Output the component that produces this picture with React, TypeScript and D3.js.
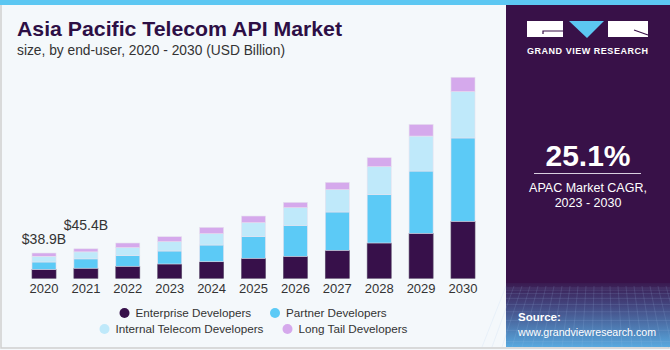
import { useEffect, useRef } from "react";
import * as d3 from "d3";

const years = ["2020", "2021", "2022", "2023", "2024", "2025", "2026", "2027", "2028", "2029", "2030"];
const seriesNames = ["Enterprise Developers", "Partner Developers", "Internal Telecom Developers", "Long Tail Developers"];
const enterprise = [13.6, 15.5, 18.5, 22.0, 25.5, 30.8, 33.8, 43.1, 54.3, 69.2, 87.7];
const partner = [11.5, 14.4, 16.3, 20.0, 25.7, 33.2, 47.7, 58.9, 74.3, 95.8, 128.2];
const internal = [8.7, 10.8, 12.3, 14.3, 17.4, 21.5, 27.1, 34.3, 43.1, 53.8, 71.2];
const longTail = [5.1, 4.7, 7.2, 7.7, 9.8, 10.3, 8.3, 11.4, 13.8, 18.0, 22.2];
const valueLabels = [
  { year: "2020", text: "$38.9B", lift: 9 },
  { year: "2021", text: "$45.4B", lift: 19 },
];
const colors = ["#37104a", "#5ccaf6", "#bfe9fa", "#d5a9ec"];

const W = 670;
const H = 350;
const FONT = "'Liberation Sans', Arial, sans-serif";

const App = () => {
  const svgRef = useRef<SVGSVGElement>(null);

  useEffect(() => {
    if (!svgRef.current) return;
    const svg = d3.select(svgRef.current);
    svg.selectAll("*").remove();

    const defs = svg.append("defs");
    const grad = defs
      .append("linearGradient")
      .attr("id", "panelGrad")
      .attr("x1", 0)
      .attr("y1", 0)
      .attr("x2", 0)
      .attr("y2", 1);
    grad.append("stop").attr("offset", "0%").attr("stop-color", "#3a1a50");
    grad.append("stop").attr("offset", "35%").attr("stop-color", "#43467f");
    grad.append("stop").attr("offset", "100%").attr("stop-color", "#58a9df");

    // page background + frame
    svg.append("rect").attr("width", W).attr("height", H).attr("fill", "#f4f8fb");
    svg
      .append("rect")
      .attr("x", 1)
      .attr("y", 1)
      .attr("width", W - 2)
      .attr("height", H - 3)
      .attr("fill", "none")
      .attr("stroke", "#cfcfcf")
      .attr("stroke-width", 1.5);
    svg.append("rect").attr("width", W).attr("height", 5).attr("fill", "#5cc7f2");

    // right panel
    const px = 506;
    svg
      .append("rect")
      .attr("x", px)
      .attr("y", 5)
      .attr("width", W - px)
      .attr("height", 278)
      .attr("fill", "#381148");
    svg
      .append("rect")
      .attr("x", px)
      .attr("y", 283)
      .attr("width", W - px)
      .attr("height", 64)
      .attr("fill", "url(#panelGrad)");
    // faint grid texture
    const grid = svg.append("g").attr("stroke", "#9fc3ea").attr("stroke-opacity", 0.25).attr("stroke-width", 0.6);
    d3.range(0, 24).forEach((i) => {
      const gx = px + i * 8;
      grid.append("line").attr("x1", gx).attr("y1", 286).attr("x2", gx + (i - 12) * 2).attr("y2", 347);
    });
    d3.range(0, 10).forEach((i) => {
      const gy = 288 + i * i * 0.65 + i * 1.5;
      grid.append("line").attr("x1", px).attr("y1", gy).attr("x2", W).attr("y2", gy);
    });

    // logo
    const logo = svg.append("g");
    logo.append("rect").attr("x", 527).attr("y", 21).attr("width", 36).attr("height", 16).attr("fill", "#fff");
    logo
      .append("path")
      .attr("d", "M563,31 H543 V34")
      .attr("stroke", "#381148")
      .attr("stroke-width", 1.2)
      .attr("fill", "none");
    logo.append("path").attr("d", "M569,21 H604 L587,38 Z").attr("fill", "#5cc7f2");
    logo.append("rect").attr("x", 608).attr("y", 21).attr("width", 40).attr("height", 16).attr("fill", "#fff");
    logo
      .append("path")
      .attr("d", "M634,30 L648,35")
      .attr("stroke", "#381148")
      .attr("stroke-width", 1.2);
    svg
      .append("text")
      .attr("x", 527)
      .attr("y", 54)
      .attr("font-family", FONT)
      .attr("font-weight", "bold")
      .attr("font-size", 9)
      .attr("textLength", 121)
      .attr("lengthAdjust", "spacing")
      .attr("fill", "#fff")
      .text("GRAND VIEW RESEARCH");

    const cx = 588;
    svg
      .append("text")
      .attr("x", cx)
      .attr("y", 166)
      .attr("text-anchor", "middle")
      .attr("font-family", FONT)
      .attr("font-weight", "bold")
      .attr("font-size", 30)
      .attr("fill", "#fff")
      .text("25.1%");
    svg
      .append("line")
      .attr("x1", 534)
      .attr("x2", 641)
      .attr("y1", 173.5)
      .attr("y2", 173.5)
      .attr("stroke", "#d9cfe0")
      .attr("stroke-width", 1.2);
    svg
      .append("text")
      .attr("x", cx)
      .attr("y", 192)
      .attr("text-anchor", "middle")
      .attr("font-family", FONT)
      .attr("font-size", 12.5)
      .attr("fill", "#fff")
      .text("APAC Market CAGR,");
    svg
      .append("text")
      .attr("x", cx)
      .attr("y", 207)
      .attr("text-anchor", "middle")
      .attr("font-family", FONT)
      .attr("font-size", 12.5)
      .attr("fill", "#fff")
      .text("2023 - 2030");
    svg
      .append("text")
      .attr("x", 518)
      .attr("y", 321)
      .attr("font-family", FONT)
      .attr("font-weight", "bold")
      .attr("font-size", 11.5)
      .attr("fill", "#fff")
      .text("Source:");
    svg
      .append("text")
      .attr("x", 518)
      .attr("y", 336)
      .attr("font-family", FONT)
      .attr("font-size", 11)
      .attr("textLength", 138)
      .attr("lengthAdjust", "spacingAndGlyphs")
      .attr("fill", "#fff")
      .text("www.grandviewresearch.com");

    // titles
    svg
      .append("text")
      .attr("x", 17)
      .attr("y", 36)
      .attr("font-family", FONT)
      .attr("font-weight", "900")
      .attr("font-size", 21)
      .attr("textLength", 325)
      .attr("lengthAdjust", "spacingAndGlyphs")
      .attr("fill", "#2d0f45")
      .text("Asia Pacific Telecom API Market");
    svg
      .append("text")
      .attr("x", 17)
      .attr("y", 55)
      .attr("font-family", FONT)
      .attr("font-size", 13.8)
      .attr("textLength", 268)
      .attr("lengthAdjust", "spacingAndGlyphs")
      .attr("fill", "#333")
      .text("size, by end-user, 2020 - 2030 (USD Billion)");

    // chart
    const x = d3.scaleBand().domain(years).range([23.6, 483.4]).paddingInner(0.426).paddingOuter(0.2);
    const y = d3.scaleLinear().domain([0, 320]).range([278.3, 278.3 - 320 * 0.65]);

    const table = years.map((yr, i) => ({
      year: yr,
      s0: enterprise[i],
      s1: partner[i],
      s2: internal[i],
      s3: longTail[i],
    }));
    const stack = d3.stack<(typeof table)[number]>().keys(["s0", "s1", "s2", "s3"]);
    const layers = stack(table);

    const chart = svg.append("g");
    layers.forEach((layer, li) => {
      chart
        .append("g")
        .selectAll("rect")
        .data(layer)
        .enter()
        .append("rect")
        .attr("x", (d) => x(d.data.year)!)
        .attr("width", x.bandwidth())
        .attr("y", (d) => y(d[1]))
        .attr("height", (d) => y(d[0]) - y(d[1]))
        .attr("fill", colors[li])
        .attr("stroke", li === 0 ? "#5a4a6a" : "#e6e1ee")
        .attr("stroke-width", 0.6);
    });

    // x labels
    chart
      .append("g")
      .selectAll("text")
      .data(years)
      .enter()
      .append("text")
      .attr("x", (d) => x(d)! + x.bandwidth() / 2)
      .attr("y", 293)
      .attr("text-anchor", "middle")
      .attr("font-family", FONT)
      .attr("font-size", 13)
      .attr("fill", "#333")
      .text((d) => d);

    // value labels
    chart
      .append("g")
      .selectAll("text")
      .data(valueLabels)
      .enter()
      .append("text")
      .attr("x", (d) => x(d.year)! + x.bandwidth() / 2)
      .attr("y", (d) => {
        const i = years.indexOf(d.year);
        return y(enterprise[i] + partner[i] + internal[i] + longTail[i]) - d.lift;
      })
      .attr("text-anchor", "middle")
      .attr("font-family", FONT)
      .attr("font-size", 14)
      .attr("fill", "#333")
      .text((d) => d.text);

    // legend
    const legendPos = [
      { cx: 124.5, cy: 313 },
      { cx: 275, cy: 313 },
      { cx: 104.5, cy: 329 },
      { cx: 287.5, cy: 329 },
    ];
    const legend = svg.append("g");
    seriesNames.forEach((name, i) => {
      const p = legendPos[i];
      legend.append("circle").attr("cx", p.cx).attr("cy", p.cy).attr("r", 5).attr("fill", colors[i]);
      legend
        .append("text")
        .attr("x", p.cx + 11)
        .attr("y", p.cy + 4.3)
        .attr("font-family", FONT)
        .attr("font-size", 11.7)
        .attr("fill", "#333")
        .text(name);
    });
  }, []);

  return (
    <svg
      ref={svgRef}
      width={W}
      height={H}
      style={{ position: "absolute", left: 0, top: 0, display: "block" }}
    />
  );
};

export default App;
